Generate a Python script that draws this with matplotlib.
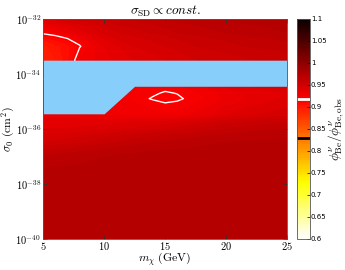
import numpy as np
import matplotlib
matplotlib.use("Agg")
import matplotlib.pyplot as plt
from matplotlib.ticker import FuncFormatter, FixedLocator

plt.rcParams["mathtext.fontset"] = "cm"

# ===============================
# Datos
# ===============================
m_chi = [5, 6, 7, 8, 9, 10, 12.5, 14, 15, 16, 17.5, 20, 22.5, 25]
log_sigma = [-32, -32.5, -33, -33.5, -34, -34.5, -34.7, -34.9, -35.1,
             -35.5, -36, -36.5, -37, -38, -39, -40]

# cociente de flujo phi_Be / phi_Be,obs  (una fila por log_sigma)
phi_ratio = [
    [0.945, 0.947, 0.950, 0.953, 0.955, 0.957, 0.962, 0.964, 0.966, 0.967, 0.969, 0.971, 0.973, 0.975],
    [0.921, 0.925, 0.931, 0.937, 0.942, 0.946, 0.953, 0.956, 0.958, 0.960, 0.962, 0.965, 0.968, 0.970],
    [0.898, 0.903, 0.908, 0.917, 0.928, 0.935, 0.945, 0.948, 0.950, 0.952, 0.955, 0.958, 0.961, 0.963],
    [0.895, 0.900, 0.908, 0.925, 0.929, 0.933, 0.940, 0.943, 0.945, 0.947, 0.950, 0.953, 0.955, 0.957],
    [0.905, 0.908, 0.912, 0.920, 0.925, 0.928, 0.932, 0.933, 0.934, 0.935, 0.940, 0.945, 0.948, 0.950],
    [0.930, 0.930, 0.930, 0.930, 0.930, 0.930, 0.925, 0.922, 0.922, 0.923, 0.927, 0.935, 0.940, 0.943],
    [0.930, 0.930, 0.930, 0.930, 0.930, 0.930, 0.923, 0.920, 0.9165, 0.9185, 0.924, 0.932, 0.937, 0.940],
    [0.930, 0.930, 0.930, 0.930, 0.930, 0.930, 0.922, 0.917, 0.914, 0.916, 0.922, 0.931, 0.937, 0.941],
    [0.930, 0.930, 0.930, 0.930, 0.930, 0.930, 0.926, 0.921, 0.919, 0.920, 0.925, 0.933, 0.939, 0.943],
    [0.933, 0.933, 0.932, 0.931, 0.930, 0.929, 0.928, 0.927, 0.926, 0.927, 0.931, 0.940, 0.945, 0.948],
    [0.940, 0.940, 0.940, 0.941, 0.942, 0.943, 0.946, 0.948, 0.950, 0.952, 0.955, 0.960, 0.963, 0.965],
    [0.950, 0.951, 0.952, 0.954, 0.956, 0.958, 0.963, 0.965, 0.966, 0.967, 0.968, 0.970, 0.971, 0.971],
    [0.965, 0.966, 0.967, 0.968, 0.969, 0.970, 0.971, 0.972, 0.972, 0.972, 0.972, 0.972, 0.972, 0.972],
    [0.972, 0.972, 0.972, 0.972, 0.972, 0.972, 0.972, 0.972, 0.972, 0.972, 0.972, 0.972, 0.972, 0.972],
    [0.972, 0.972, 0.972, 0.972, 0.972, 0.972, 0.972, 0.972, 0.972, 0.972, 0.972, 0.972, 0.972, 0.972],
    [0.972, 0.972, 0.972, 0.972, 0.972, 0.972, 0.972, 0.972, 0.972, 0.972, 0.972, 0.972, 0.972, 0.972],
]

# banda excluida (celeste)
band_x = [5, 10, 12.5, 25]
band_top = [-33.5, -33.5, -33.5, -33.5]
band_bottom = [-35.45, -35.45, -34.45, -34.45]

contour_white = 0.918
contour_black = 0.83

x_ticks = [5, 10, 15, 20, 25]
y_ticks = [-40, -38, -36, -34, -32]
cb_ticks = [0.6, 0.65, 0.7, 0.75, 0.8, 0.85, 0.9, 0.95, 1.0, 1.05, 1.1]

# ===============================
# Figura
# ===============================
fig = plt.figure(figsize=(3.45, 2.7), dpi=100)
ax = fig.add_axes([0.125, 0.115, 0.707, 0.815])

X, Y = np.meshgrid(m_chi, 10.0 ** np.array(log_sigma))
V = np.array(phi_ratio)

cf = ax.contourf(X, Y, V, levels=np.linspace(0.6, 1.1, 101), cmap="hot_r",
                 vmin=0.6, vmax=1.1, zorder=1)
ax.contour(X, Y, V, levels=[contour_white], colors="white", linewidths=1.0, zorder=2)

ax.fill_between(band_x, 10.0 ** np.array(band_bottom), 10.0 ** np.array(band_top),
                color="#87cefa", linewidth=0, zorder=3)

ax.set_yscale("log")
ax.set_xlim(5, 25)
ax.set_ylim(1e-40, 1e-32)
ax.xaxis.set_major_locator(FixedLocator(x_ticks))
ax.yaxis.set_major_locator(FixedLocator([10.0 ** e for e in y_ticks]))
ax.yaxis.set_minor_locator(FixedLocator([]))
ax.xaxis.set_major_formatter(FuncFormatter(lambda v, p: r"$\mathsf{%d}$" % v))
ax.yaxis.set_major_formatter(
    FuncFormatter(lambda v, p: r"$\mathsf{10^{%d}}$" % round(np.log10(v))))
ax.tick_params(direction="in", length=3, width=0.6, top=True, right=True,
               labelsize=7.5, pad=1.5, color="#333333")
ax.tick_params(axis="x", pad=1)
for s in ax.spines.values():
    s.set_color("#555555")
    s.set_linewidth(0.6)
    s.set_zorder(5)

ax.set_title(r"$\sigma_{\rm SD} \propto const.$", fontsize=9.5, pad=3)
ax.set_xlabel(r"$m_\chi\ (\mathrm{GeV})$", fontsize=8.5, labelpad=-1)
ax.set_ylabel(r"$\sigma_0\ (\mathrm{cm}^2)$", fontsize=8.5, labelpad=-1)

# ===============================
# Barra de color
# ===============================
cax = fig.add_axes([0.861, 0.115, 0.038, 0.815])
cb = fig.colorbar(cf, cax=cax, ticks=cb_ticks, format="%g")
cb.ax.axhline(contour_white, color="white", linewidth=2)
cb.ax.axhline(contour_black, color="black", linewidth=2)
cb.ax.tick_params(direction="in", length=2, width=0.5, labelsize=5, pad=0.5)
cb.outline.set_edgecolor("#555555")
cb.outline.set_linewidth(0.6)
cb.set_label(r"$\phi^\nu_{\rm Be}/\phi^\nu_{\rm Be,obs}$", fontsize=9.5, labelpad=0)

fig.savefig("out.png", dpi=100)
